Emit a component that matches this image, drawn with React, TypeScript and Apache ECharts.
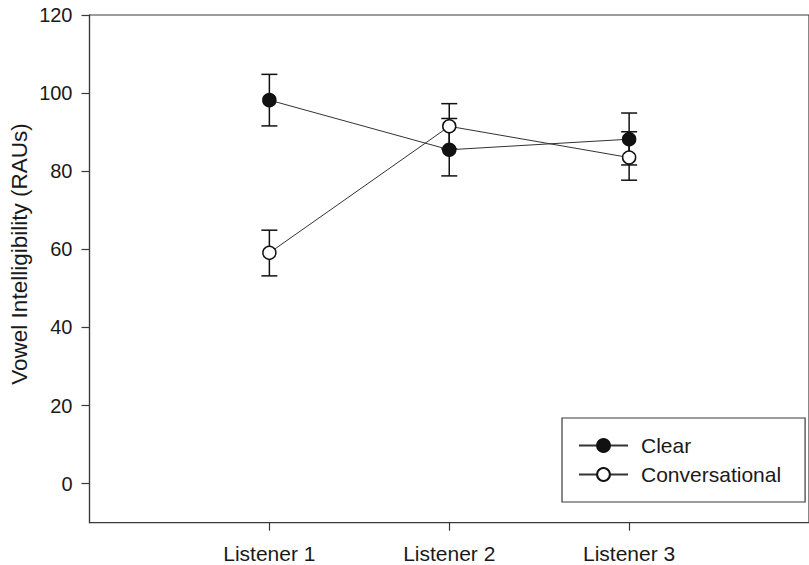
import React, { useEffect, useRef } from "react";
import * as echarts from "echarts";

const categories = ["Listener 1", "Listener 2", "Listener 3"];
const clearMeans = [98.2, 85.5, 88.2];
const clearUpper = [104.8, 93.5, 94.9];
const clearLower = [91.6, 78.8, 81.6];
const convMeans = [59.1, 91.5, 83.5];
const convUpper = [64.9, 97.3, 90.1];
const convLower = [53.2, 85.7, 77.7];
const yTicks = [0, 20, 40, 60, 80, 100, 120];
const xTicks = [1, 2, 3];

const FONT = "'Liberation Sans', Arial, Helvetica, sans-serif";
const TEXT = "#1a1a1a";
const AXIS = "#3a3a3a";

function errRender(params: any, api: any) {
  const x = api.value(0);
  const lo = api.coord([x, api.value(1)]);
  const hi = api.coord([x, api.value(2)]);
  const half = 8;
  const style = { stroke: "#111", lineWidth: 1.5 };
  return {
    type: "group",
    children: [
      { type: "line", shape: { x1: lo[0], y1: lo[1], x2: hi[0], y2: hi[1] }, style },
      { type: "line", shape: { x1: lo[0] - half, y1: lo[1], x2: lo[0] + half, y2: lo[1] }, style },
      { type: "line", shape: { x1: hi[0] - half, y1: hi[1], x2: hi[0] + half, y2: hi[1] }, style },
    ],
  };
}

export default function App() {
  const ref = useRef<HTMLDivElement>(null);
  useEffect(() => {
    if (!ref.current) return;
    const chart = echarts.init(ref.current, null, { renderer: "svg" });
    const clearData = clearMeans.map((v, i) => [i + 1, v]);
    const convData = convMeans.map((v, i) => [i + 1, v]);
    const clearErr = clearMeans.map((_, i) => [i + 1, clearLower[i], clearUpper[i]]);
    const convErr = convMeans.map((_, i) => [i + 1, convLower[i], convUpper[i]]);
    chart.setOption({
      animation: false,
      textStyle: { fontFamily: FONT },
      grid: {
        left: 89.5,
        top: 15,
        width: 723,
        height: 507.7,
        show: true,
        borderColor: AXIS,
        borderWidth: 1.2,
        backgroundColor: "transparent",
      },
      xAxis: {
        type: "value",
        min: 0,
        max: 4,
        splitLine: { show: false },
        axisLine: { show: true, onZero: false, lineStyle: { color: AXIS, width: 1.2 } },
        axisTick: { show: true, length: 8, customValues: xTicks, lineStyle: { color: AXIS, width: 1.2 } },
        axisLabel: {
          customValues: xTicks,
          margin: 20,
          fontSize: 21,
          color: TEXT,
          fontFamily: FONT,
          formatter: (v: number) => categories[Math.round(v) - 1] ?? "",
        },
      },
      yAxis: {
        type: "value",
        min: -10,
        max: 120,
        splitLine: { show: false },
        axisLine: { show: true, onZero: false, lineStyle: { color: AXIS, width: 1.2 } },
        axisTick: { show: true, length: 8, customValues: yTicks, lineStyle: { color: AXIS, width: 1.2 } },
        axisLabel: {
          customValues: yTicks,
          margin: 17,
          fontSize: 20,
          color: TEXT,
          fontFamily: FONT,
        },
      },
      legend: {
        data: ["Clear", "Conversational"],
        orient: "vertical",
        left: 562,
        top: 418,
        backgroundColor: "#fff",
        borderColor: AXIS,
        borderWidth: 1.2,
        borderRadius: 0,
        padding: [16.5, 24, 16.5, 16],
        itemWidth: 49,
        itemHeight: 16,
        itemGap: 7,
        textStyle: { fontSize: 21, color: TEXT, fontFamily: FONT, lineHeight: 22, padding: [0, 0, 0, 8] },
      },
      graphic: [
        {
          type: "text",
          x: 19.5,
          y: 254,
          rotation: Math.PI / 2,
          style: {
            text: "Vowel Intelligibility (RAUs)",
            fontSize: 22.5,
            fontFamily: FONT,
            fill: TEXT,
            textAlign: "center",
            textVerticalAlign: "middle",
          },
        },
      ],
      series: [
        {
          type: "custom",
          name: "clearErr",
          renderItem: errRender,
          data: clearErr,
          encode: { x: 0, y: [1, 2] },
          z: 1,
          silent: true,
        },
        {
          type: "custom",
          name: "convErr",
          renderItem: errRender,
          data: convErr,
          encode: { x: 0, y: [1, 2] },
          z: 1,
          silent: true,
        },
        {
          type: "line",
          name: "Clear",
          data: clearData,
          symbol: "circle",
          symbolSize: 13,
          z: 3,
          lineStyle: { color: "#333", width: 1 },
          itemStyle: { color: "#111", borderColor: "#111", borderWidth: 1.5 },
        },
        {
          type: "line",
          name: "Conversational",
          data: convData,
          symbol: "circle",
          symbolSize: 13,
          z: 3,
          lineStyle: { color: "#333", width: 1 },
          itemStyle: { color: "#fff", borderColor: "#111", borderWidth: 1.5 },
        },
      ],
    });
    return () => chart.dispose();
  }, []);
  return (
    <div
      ref={ref}
      style={{ position: "fixed", left: 0, top: 0, width: 809, height: 565, background: "#fff" }}
    />
  );
}
